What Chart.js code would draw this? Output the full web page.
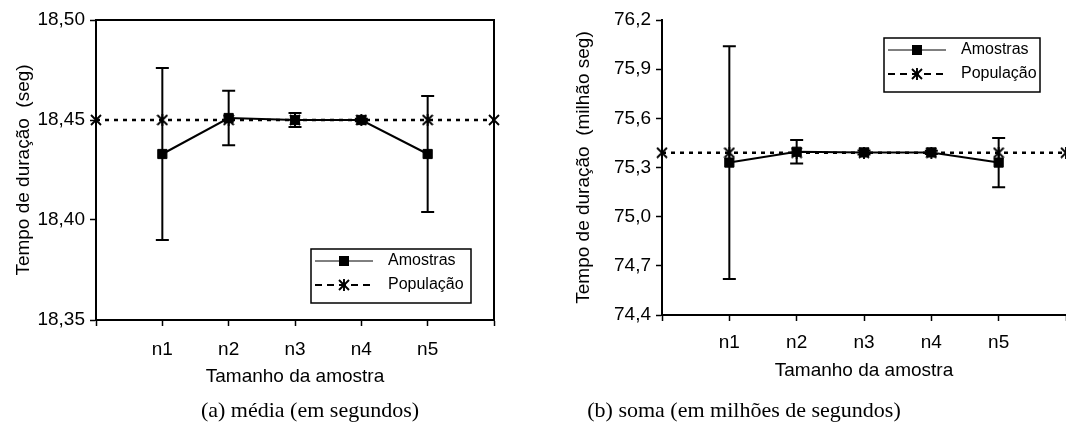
<!DOCTYPE html>
<html>
<head>
<meta charset="utf-8">
<script src="https://cdn.jsdelivr.net/npm/chart.js@4"></script>
<style>
body { margin: 0; background: #fff; width: 1066px; height: 438px; position: relative; overflow: hidden; }
canvas { position: absolute; top: 0; }
#ca { left: 0; }
#cb { left: 530px; }
.cap { position: absolute; top: 397px; line-height: 26px; font-family: "Liberation Serif", "Times New Roman", serif; font-size: 22px; transform: translateX(-50%); white-space: nowrap; color: #000; }
</style>
</head>
<body>
<canvas id="ca" width="530" height="400"></canvas>
<canvas id="cb" width="536" height="400"></canvas>
<div class="cap" style="left:310px">(a) média (em segundos)</div>
<div class="cap" style="left:744px">(b) soma (em milhões de segundos)</div>
<script>
// sample sizes on the x axis (positions 1..5, population line runs 0..6)
var sizeLabels = ['n1', 'n2', 'n3', 'n4', 'n5'];
var sampleX = [1, 2, 3, 4, 5];
var popX = [0, 1, 2, 3, 4, 5, 6];

// (a) media, seconds
var mediaAmostras = [18.433, 18.451, 18.450, 18.450, 18.433];
var mediaErro = [0.043, 0.0136, 0.0035, 0.0006, 0.029];
var mediaPopulacao = [18.45, 18.45, 18.45, 18.45, 18.45, 18.45, 18.45];

// (b) soma, millions of seconds
var somaAmostras = [75.33, 75.396, 75.392, 75.392, 75.33];
var somaErro = [0.71, 0.072, 0.012, 0.01, 0.15];
var somaPopulacao = [75.39, 75.39, 75.39, 75.39, 75.39, 75.39, 75.39];

Chart.defaults.font.family = '"Liberation Sans", Arial, sans-serif';
Chart.defaults.color = '#000';

// excel-like star marker (x plus vertical stroke)
function starMarker(size) {
  var c = document.createElement('canvas');
  c.width = c.height = size;
  var g = c.getContext('2d');
  g.strokeStyle = '#000';
  g.lineWidth = 1.9;
  g.beginPath();
  g.moveTo(1, 1); g.lineTo(size - 1, size - 1);
  g.moveTo(size - 1, 1); g.lineTo(1, size - 1);
  g.moveTo(size / 2, 0); g.lineTo(size / 2, size);
  g.stroke();
  return c;
}
var star = starMarker(12);

function errorBars(means, errors) {
  return {
    id: 'errorBars',
    afterDatasetsDraw: function (chart) {
      var ctx = chart.ctx, x = chart.scales.x, y = chart.scales.y;
      ctx.save();
      ctx.strokeStyle = '#000';
      ctx.lineWidth = 2;
      means.forEach(function (m, i) {
        var px = x.getPixelForValue(sampleX[i]);
        var top = y.getPixelForValue(m + errors[i]);
        var bot = y.getPixelForValue(m - errors[i]);
        ctx.beginPath();
        ctx.moveTo(px, top); ctx.lineTo(px, bot);
        ctx.moveTo(px - 6.5, top); ctx.lineTo(px + 6.5, top);
        ctx.moveTo(px - 6.5, bot); ctx.lineTo(px + 6.5, bot);
        ctx.stroke();
      });
      ctx.restore();
    }
  };
}

function boxLegend(bx, by, bw, bh, frame) {
  return {
    id: 'boxLegend',
    afterDraw: function (chart) {
      var ctx = chart.ctx, a = chart.chartArea;
      ctx.save();
      if (frame) {
        ctx.strokeStyle = '#000';
        ctx.lineWidth = 2;
        ctx.strokeRect(a.left, a.top, a.right - a.left, a.bottom - a.top);
      }
      ctx.fillStyle = '#fff';
      ctx.fillRect(bx, by, bw, bh);
      ctx.strokeStyle = '#000';
      ctx.lineWidth = 1.5;
      ctx.strokeRect(bx, by, bw, bh);
      var r1 = by + 12, r2 = by + 36;
      // Amostras sample
      ctx.lineWidth = 1;
      ctx.beginPath(); ctx.moveTo(bx + 4, r1); ctx.lineTo(bx + 62, r1); ctx.stroke();
      ctx.fillStyle = '#000';
      ctx.fillRect(bx + 28, r1 - 5, 10, 10);
      // Populacao sample
      ctx.lineWidth = 2.2;
      ctx.setLineDash([7, 5]);
      ctx.beginPath(); ctx.moveTo(bx + 4, r2); ctx.lineTo(bx + 62, r2); ctx.stroke();
      ctx.setLineDash([]);
      ctx.drawImage(star, bx + 33 - 6, r2 - 6);
      ctx.font = '16px "Liberation Sans", Arial, sans-serif';
      ctx.textBaseline = 'middle';
      ctx.textAlign = 'left';
      ctx.fillText('Amostras', bx + 77, r1);
      ctx.fillText('População', bx + 77, r2);
      ctx.restore();
    }
  };
}

function makeChart(id, cfg) {
  return new Chart(document.getElementById(id), {
    type: 'line',
    data: {
      datasets: [
        {
          label: 'Amostras',
          data: cfg.means.map(function (v, i) { return { x: sampleX[i], y: v }; }),
          borderColor: '#000',
          backgroundColor: '#000',
          borderWidth: 2,
          pointStyle: 'rect',
          pointRadius: 6.5,
          pointBorderWidth: 1,
          clip: false
        },
        {
          label: 'População',
          data: cfg.pop.map(function (v, i) { return { x: popX[i], y: v }; }),
          borderColor: '#000',
          borderWidth: 2.5,
          borderDash: [4, 5],
          pointStyle: star,
          clip: false
        }
      ]
    },
    options: {
      responsive: false,
      animation: false,
      devicePixelRatio: 1,
      layout: { autoPadding: false, padding: { top: 20, right: cfg.padRight, left: 0, bottom: 0 } },
      plugins: { legend: { display: false }, tooltip: { enabled: false } },
      scales: {
        x: {
          type: 'linear',
          min: 0, max: 6,
          afterFit: function (s) { s.height = cfg.xHeight; s.paddingRight = 0; s.paddingLeft = 0; },
          border: { color: '#000', width: 2 },
          grid: { drawOnChartArea: false, drawTicks: true, tickLength: 6, tickColor: '#000', tickWidth: 1.5 },
          ticks: {
            stepSize: 1, autoSkip: false, padding: cfg.xTickPad, maxRotation: 0,
            font: { size: 19 },
            callback: function (v) { return sizeLabels[v - 1] || ''; }
          },
          title: { display: true, text: 'Tamanho da amostra', font: { size: 19 }, padding: { top: 0, bottom: cfg.xTitlePad } }
        },
        y: {
          min: cfg.min, max: cfg.max,
          afterFit: function (s) { s.width = cfg.yWidth; },
          border: { color: '#000', width: 2 },
          grid: { drawOnChartArea: false, drawTicks: true, tickLength: 6, tickColor: '#000', tickWidth: 1.5 },
          ticks: {
            stepSize: cfg.step, padding: 5,
            font: { size: 19 },
            callback: function (v) { return v.toFixed(cfg.decimals).replace('.', ','); }
          },
          title: { display: true, text: cfg.yTitle, font: { size: 19 }, padding: { top: cfg.yTitlePad, bottom: 0 } }
        }
      }
    },
    plugins: [errorBars(cfg.means, cfg.errors), boxLegend(cfg.lx, cfg.ly, cfg.lw, cfg.lh, cfg.frame)]
  });
}

makeChart('ca', {
  means: mediaAmostras, errors: mediaErro, pop: mediaPopulacao,
  min: 18.35, max: 18.50, step: 0.05, decimals: 2,
  yTitle: 'Tempo de duração  (seg)',
  padRight: 36, xHeight: 80, yWidth: 96,
  xTickPad: 12, xTitlePad: 12, yTitlePad: 12,
  lx: 311, ly: 249, lw: 160, lh: 54, frame: true
});

makeChart('cb', {
  means: somaAmostras, errors: somaErro, pop: somaPopulacao,
  min: 74.4, max: 76.2, step: 0.3, decimals: 1,
  yTitle: 'Tempo de duração  (milhão seg)',
  padRight: 0, xHeight: 85, yWidth: 132,
  xTickPad: 10, xTitlePad: 18, yTitlePad: 42,
  lx: 354, ly: 38, lw: 156, lh: 54, frame: false
});
</script>
</body>
</html>
